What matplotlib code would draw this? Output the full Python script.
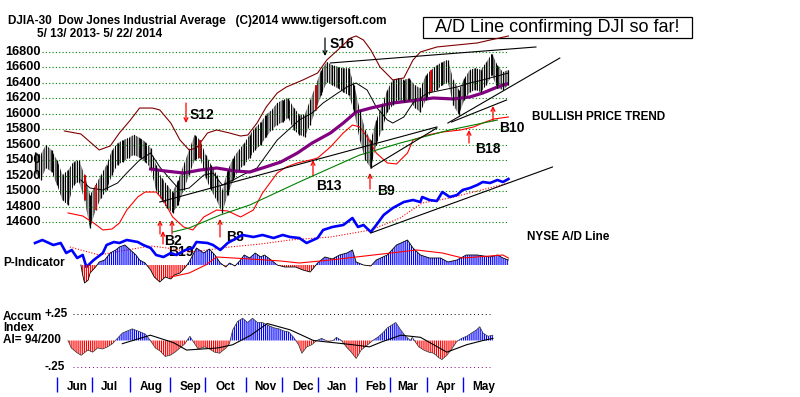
import numpy as np
import matplotlib.pyplot as plt
from matplotlib.patches import Rectangle

plt.rcParams['font.family'] = ['Liberation Sans', 'DejaVu Sans']
plt.rcParams['hatch.linewidth'] = 0.85

W, H = 800, 397

# ---- DJIA price, one bar per 3 trading days (13 May 2013 - 22 May 2014)
bar_day = list(range(0, 259, 3))
bar_high = [15510, 15470, 15600, 15530, 15400, 15210, 15270, 15380, 15400, 15210,
            14950, 15080, 15210, 15340, 15530, 15620, 15660, 15690, 15730, 15690,
            15640, 15560, 15340, 15170, 15080, 14990, 15140, 15340, 15530, 15730,
            15660, 15470, 15340, 15210, 15010, 15270, 15430, 15530, 15620, 15730,
            15820, 15890, 15990, 16050, 16140, 16180, 16200, 16080, 15990, 15990,
            16180, 16370, 16570, 16670, 16630, 16610, 16590, 16590, 16370, 16050,
            15790, 15660, 15920, 16110, 16310, 16440, 16460, 16440, 16460, 16370,
            16330, 16500, 16570, 16630, 16670, 16700, 16440, 16310, 16460, 16570,
            16590, 16570, 16670, 16780, 16630, 16540, 16570]
bar_low = [15250, 15140, 15300, 15250, 15080, 14880, 14820, 15080, 15120, 14880,
           14520, 14750, 14910, 15010, 15210, 15340, 15380, 15430, 15470, 15430,
           15380, 15300, 15010, 14880, 14780, 14720, 14820, 15010, 15210, 15400,
           15430, 15170, 15010, 14880, 14720, 14950, 15140, 15270, 15340, 15430,
           15530, 15600, 15700, 15790, 15860, 15890, 15950, 15790, 15730, 15700,
           15860, 16050, 16240, 16410, 16370, 16330, 16280, 16240, 16020, 15660,
           15400, 15300, 15600, 15790, 16020, 16110, 16180, 16150, 16180, 16080,
           16020, 16180, 16280, 16310, 16370, 16410, 16110, 15990, 16180, 16280,
           16310, 16280, 16370, 16500, 16330, 16310, 16370]
red_bars = [9, 11, 30, 51, 72]
price_levels = list(range(14600, 16801, 200))

# bands and moving averages (trading day, price)
upper_day = [16, 25, 35, 41, 46, 52, 57, 64, 68, 74, 79, 84, 88, 94, 99, 106, 112, 116, 121,
             126, 132, 137, 146, 154, 159, 165, 172, 175, 179, 183, 188, 195, 201, 206, 210,
             219, 230, 241, 248, 258]
upper_val = [15778, 15739, 15532, 15584, 15752, 15920, 16075, 16075, 16050, 15881, 15661,
             15532, 15558, 15752, 15791, 15752, 15713, 15726, 15881, 16088, 16269, 16347,
             16438, 16528, 16696, 16826, 16981, 17007, 16955, 16826, 16606, 16438, 16464,
             16696, 16800, 16865, 16891, 16917, 16955, 17007]
lower_day = [18, 26, 32, 37, 42, 46, 50, 56, 60, 66, 70, 75, 81, 86, 92, 99, 105, 112, 119,
             124, 132, 137, 143, 150, 154, 161, 168, 173, 177, 181, 186, 192, 197, 203, 206,
             214, 222, 232, 239, 244, 250, 258]
lower_val = [14717, 14678, 14587, 14497, 14510, 14587, 14755, 14924, 14988, 14988, 14885,
             14665, 14536, 14497, 14665, 14755, 14743, 14665, 14755, 14975, 15234, 15312,
             15364, 15402, 15428, 15571, 15752, 15855, 15830, 15700, 15493, 15364, 15351,
             15493, 15661, 15726, 15765, 15791, 15830, 15881, 15933, 15959]
ma21_day = [25, 30, 37, 45, 50, 57, 63, 68, 74, 79, 84, 92, 97, 102, 108, 113, 121, 132, 144,
            151, 157, 165, 170, 175, 181, 186, 192, 195, 201, 206, 214, 222, 230, 237, 244,
            250, 258]
ma21_val = [15144, 15040, 15014, 15105, 15234, 15402, 15493, 15312, 15144, 15014, 15040,
            15208, 15234, 15079, 15144, 15208, 15299, 15661, 15920, 16011, 16140, 16269,
            16347, 16399, 16308, 16088, 15920, 15881, 15959, 16140, 16269, 16308, 16347,
            16399, 16438, 16477, 16528]
ma65_day = [63, 71, 81, 90, 99, 109, 117, 124, 134, 143, 151, 161, 168, 175, 183, 195, 204,
            217, 228, 237, 244, 252, 257]
ma65_val = [15286, 15260, 15234, 15273, 15299, 15260, 15247, 15299, 15377, 15493, 15622,
            15752, 15881, 16024, 16075, 16140, 16166, 16205, 16192, 16218, 16269, 16347, 16386]
ma200_day = [75, 84, 101, 117, 144, 161, 177, 199, 226, 252]
ma200_val = [14471, 14523, 14691, 14820, 15118, 15299, 15467, 15622, 15791, 15920]

# hand-drawn trend lines: (day0, price0, day1, price1)
trend_lines = [(161, 16658, 273, 16865),
               (68, 14859, 219, 15830),
               (183, 15299, 219, 15817),
               (225, 15881, 286, 16722),
               (227, 15894, 257, 16179)]

# ---- NYSE A/D line (relative units)
ad_day = [0, 4, 10, 14, 17, 20, 23, 26, 28, 32, 37, 39, 43, 46, 50, 56, 59, 63, 66, 70, 74,
          77, 82, 86, 88, 94, 97, 101, 105, 108, 113, 119, 124, 130, 135, 139, 144, 148, 154,
          157, 162, 168, 173, 176, 179, 183, 186, 190, 195, 201, 206, 210, 211, 215, 219, 222,
          226, 230, 233, 237, 241, 244, 248, 252, 255, 258]
ad_val = [57, 60, 55, 57, 47, 50, 42, 45, 33, 40, 47, 55, 58, 57, 60, 58, 55, 52, 45, 43, 47,
          45, 50, 52, 58, 57, 55, 50, 57, 60, 65, 63, 65, 62, 65, 63, 62, 57, 62, 70, 73, 75,
          82, 73, 75, 68, 75, 85, 92, 98, 100, 98, 103, 100, 99, 108, 103, 105, 110, 112, 115,
          118, 117, 120, 118, 121]
ad_ma_day = [19, 35, 50, 63, 72, 84, 94, 106, 123, 139, 161, 183, 199, 211, 226, 239, 258]
ad_ma_val = [53, 45, 50, 54, 52, 48, 50, 53, 56, 60, 63, 70, 82, 97, 102, 108, 117]
ad_trend = (183, 67, 282, 133)

# ---- P-Indicator
pi_day = [25, 26, 27, 29, 30, 33, 35, 38, 41, 44, 46, 49, 52, 55, 57, 60, 63, 65, 68, 71,
          74, 76, 79, 82, 84, 88, 92, 95, 98, 101, 104, 106, 109, 112, 114, 117, 120, 123,
          125, 128, 132, 136, 142, 146, 150, 154, 158, 162, 166, 170, 173, 175, 179, 183,
          186, 192, 197, 203, 206, 210, 215, 221, 225, 230, 235, 241, 248, 252, 255, 258]
pi_val = [0, -10, -18, -15, -8, -2, 3, 5, 12, 15, 18, 20, 15, 10, 5, 2, -5, -12, -17, -12,
          -14, -10, -8, -2, 3, 17, 12, 16, 10, 2, -2, 2, -1, 5, 10, 7, 12, 8, 10, 6, 0, -2,
          -2, -5, -7, 2, 8, 6, 10, 12, 15, 3, 0, -1, 5, 10, 20, 25, 17, 10, 7, 7, 3, 5, 10,
          10, 8, 10, 7, 5]
pi_ma_day = [74, 84, 93, 99, 117, 134, 144, 161, 175, 194, 208, 222, 233, 248, 255, 258]
pi_ma_val = [-12, -8, 0, 8, 6, 4, 2, 5, 8, 12, 15, 12, 7, 9, 10, 7]

# ---- Accumulation index
acc_day = [0, 2, 5, 8, 12, 15, 18, 21, 24, 27, 30, 33, 36, 39, 44, 47, 50, 53, 56, 59, 62,
           65, 68, 71, 74, 76, 79, 83, 86, 89, 92, 96, 98, 100, 103, 106, 109, 112, 115, 118,
           122, 125, 128, 131, 134, 137, 140, 142, 145, 148, 151, 154, 158, 161, 163, 166,
           169, 172, 175, 178, 182, 185, 188, 191, 194, 197, 199, 202, 205, 208, 209, 213,
           216, 219, 222, 225, 227, 230, 233, 236, 239, 242, 245, 248, 250, 252, 255, 258]
acc_val = [0.0, -0.07, -0.11, -0.14, -0.09, -0.11, -0.07, -0.08, -0.06, -0.03, 0.02, 0.07,
           0.09, 0.11, 0.08, 0.06, 0.0, -0.07, -0.10, -0.15, -0.14, -0.11, -0.07, -0.03, 0.04,
           -0.01, -0.08, -0.06, -0.08, -0.11, -0.12, -0.07, -0.03, 0.10, 0.18, 0.21, 0.17,
           0.21, 0.17, 0.17, 0.14, 0.12, 0.11, 0.09, 0.08, 0.03, -0.04, -0.12, -0.06, -0.04,
           0.0, 0.02, -0.01, 0.0, 0.03, 0.0, -0.06, -0.11, -0.17, -0.09, -0.04, 0.0, 0.03,
           0.07, 0.12, 0.15, 0.17, 0.10, 0.04, 0.0, 0.03, -0.06, -0.09, -0.11, -0.12, -0.16,
           -0.18, -0.14, -0.08, -0.01, 0.02, 0.04, 0.07, 0.10, 0.13, 0.07, 0.04, 0.05]
acc_ma_day = [33, 50, 64, 72, 91, 100, 111, 121, 135, 149, 161, 173, 183, 191, 202, 214,
              230, 242, 252, 258]
acc_ma_val = [-0.03, 0.05, -0.02, -0.09, -0.07, -0.04, 0.05, 0.16, 0.10, 0.0, -0.02, -0.04,
              -0.06, -0.01, 0.05, 0.03, -0.11, -0.04, 0.0, 0.02]

months = ['Jun', 'Jul', 'Aug', 'Sep', 'Oct', 'Nov', 'Dec', 'Jan', 'Feb', 'Mar', 'Apr', 'May']
month_tick_px = [57, 92, 130, 170, 205, 246, 282, 318, 356, 390, 427, 463]
month_label_px = [77, 109, 151, 190, 225, 265, 303, 337, 376, 408, 446, 484]

# signals: label, text x/y, arrow start, arrow end, colour (pixels)
signals = [('S16', 330, 44, (325, 38), (325, 56), 'black'),
           ('S12', 190, 115, (186, 103), (186, 123), 'red'),
           ('B2', 164, 241, (160, 234), (160, 220), 'red'),
           ('', 0, 0, (172, 234), (172, 220), 'red'),
           ('B19', 168, 252, (163, 244), (163, 231), 'red'),
           ('B8', 226, 237, (220, 237), (220, 219), 'red'),
           ('B13', 316, 186, (313, 176), (313, 160), 'red'),
           ('B9', 377, 191, (370, 189), (370, 173), 'red'),
           ('B18', 475, 149, (469, 143), (469, 130), 'red'),
           ('B10', 499, 128, (493, 121), (493, 106), 'red')]

fig = plt.figure(figsize=(W / 100, H / 100), dpi=100)


def panel(px0, px_day, py0, v0, px_unit):
    ax = fig.add_axes([0, 0, 1, 1])
    ax.set_xlim(-px0 / px_day, (W - px0) / px_day)
    ax.set_ylim(v0 - (H - py0) / px_unit, v0 + py0 / px_unit)
    ax.axis('off')
    ax.patch.set_visible(False)
    return ax


axt = panel(0, 1, 0, 0, 1)
axt.set_ylim(H, 0)
ax_p = panel(35, 1.835, 52, 16800, 1 / 12.94)
ax_ad = panel(35, 1.835, 300, 0, 1)
ax_pi = panel(35, 1.835, 265, 0, 1)
ax_ac = panel(68, 1.647, 340.5, 0, 106)

bold = dict(fontweight='bold', fontsize=8.5)

# price panel
d0, d1 = (42 - 35) / 1.835, (508 - 35) / 1.835
ax_p.hlines(price_levels, d0, d1, colors='#008000', linestyles=(0, (1, 2)), linewidth=0.8)
for lvl in price_levels:
    ax_p.text((5 - 35) / 1.835, lvl, str(lvl), ha='left', va='center',
              fontweight='bold', fontsize=9.2)

ax_p.plot(upper_day, upper_val, color='#800000', lw=0.8)
ax_p.plot(lower_day, lower_val, color='red', lw=0.8)
ax_p.plot(ma200_day, ma200_val, color='#008000', lw=0.8)
ax_p.plot(ma21_day, ma21_val, color='black', lw=0.7)
ax_p.plot(ma65_day, ma65_val, color='#800080', lw=2.3)

ax_p.fill_between(bar_day, bar_low, bar_high, facecolor='none', edgecolor='black',
                  hatch='|' * 7, linewidth=0)
ax_p.vlines(bar_day, bar_low, bar_high, color='black', lw=0.9)
ax_p.vlines([bar_day[i] for i in red_bars], [bar_low[i] for i in red_bars],
            [bar_high[i] for i in red_bars], color='red', lw=1.2)
for x0, y0, x1, y1 in trend_lines:
    ax_p.plot([x0, x1], [y0, y1], color='black', lw=0.8)

# A/D line
ax_ad.plot(ad_ma_day, ad_ma_val, color='red', lw=0.8, ls=(0, (1, 1.5)))
ax_ad.plot(ad_day, ad_val, color='blue', lw=1.9)
ax_ad.plot(ad_trend[::2], ad_trend[1::2], color='black', lw=0.8)

# P-Indicator
pi = np.array(pi_val)
ax_pi.fill_between(pi_day, 0, pi, where=pi >= 0, interpolate=True, facecolor='none',
                   edgecolor='blue', hatch='|' * 8, linewidth=0)
ax_pi.fill_between(pi_day, 0, pi, where=pi <= 0, interpolate=True, facecolor='none',
                   edgecolor='red', hatch='|' * 8, linewidth=0)
ax_pi.plot(pi_day, pi, color='black', lw=0.6)
ax_pi.plot(pi_ma_day, pi_ma_val, color='red', lw=0.8)

# Accumulation index
acc = np.array(acc_val)
ax_ac.hlines(0.25, (73 - 68) / 1.647, (490 - 68) / 1.647, colors='black',
             linestyles=(0, (1, 3)), linewidth=0.7)
ax_ac.hlines(-0.25, (73 - 68) / 1.647, (490 - 68) / 1.647, colors='#800080',
             linestyles=(0, (1, 3)), linewidth=0.7)
ax_ac.fill_between(acc_day, 0, acc, where=acc >= 0, interpolate=True, facecolor='none',
                   edgecolor='blue', hatch='|' * 8, linewidth=0)
ax_ac.fill_between(acc_day, 0, acc, where=acc <= 0, interpolate=True, facecolor='none',
                   edgecolor='red', hatch='|' * 8, linewidth=0)
ax_ac.plot(acc_day, acc, color='#303030', lw=0.5)
ax_ac.plot(acc_ma_day, acc_ma_val, color='black', lw=0.8)

# text, labels, signals (pixel overlay)
axt.text(8, 21, 'DJIA-30  Dow Jones Industrial Average   (C)2014 www.tigersoft.com',
         ha='left', va='center', **bold)
axt.text(37, 34, '5/ 13/ 2013- 5/ 22/ 2014', ha='left', va='center', **bold)
axt.add_patch(Rectangle((423, 17), 269, 21, fill=False, edgecolor='black', lw=0.9))
axt.text(557, 28, 'A/D Line confirming DJI so far!', ha='center', va='center', fontsize=13)
axt.text(532, 117, 'BULLISH PRICE TREND', ha='left', va='center', **bold)
axt.text(527, 237, 'NYSE A/D Line', ha='left', va='center', **bold)
axt.text(3, 263, 'P-Indicator', ha='left', va='center', **bold)
axt.text(3, 317, 'Accum', ha='left', va='center', **bold)
axt.text(3, 328, 'Index', ha='left', va='center', **bold)
axt.text(3, 340, 'AI= 94/200', ha='left', va='center', **bold)
axt.text(68, 314, '+.25', ha='right', va='center', **bold)
axt.text(65, 367, '-.25', ha='right', va='center', **bold)

axt.vlines(month_tick_px, 377, 392, colors='blue', lw=1.0)
for m, x in zip(months, month_label_px):
    axt.text(x, 387, m, ha='center', va='center', **bold)

for lab, tx, ty, p0, p1, col in signals:
    axt.annotate('', xy=p1, xytext=p0,
                 arrowprops=dict(arrowstyle='->', color=col, lw=0.9, mutation_scale=7,
                                 shrinkA=0, shrinkB=0))
    if lab:
        axt.text(tx, ty, lab, ha='left', va='center', fontsize=10, fontweight='bold')

fig.savefig('out.png', dpi=100)
